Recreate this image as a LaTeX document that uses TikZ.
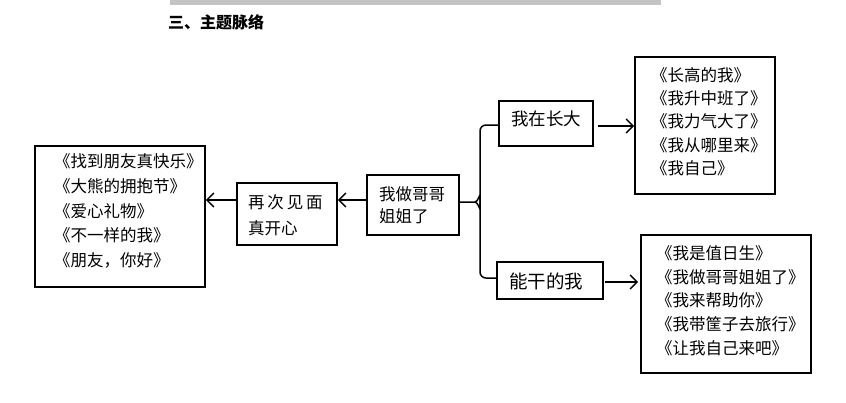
\documentclass[tikz,border=0pt]{standalone}
\usepackage{fontspec}
\newfontfamily\cjk{Noto Sans CJK SC}
\usetikzlibrary{arrows.meta}
\tikzset{
  box/.style={draw, line width=1.6pt, rectangle, inner sep=0pt},
  txt/.style={anchor=west, align=left, inner sep=0pt},
  arr/.style={line width=1.5pt, -{Straight Barb[length=7pt,width=14pt,line width=1.5pt]}},
  link/.style={line width=1.5pt},
}
\begin{document}
\begin{tikzpicture}[x=1pt,y=-1pt]
\useasboundingbox (0,0) rectangle (846,402);
\fill[black!23] (170,0) rectangle (661,4.5);
\node[txt, font=\cjk\bfseries\fontsize{16}{16}\selectfont] (title) at (168,22) {三、主题脉络};
% boxes
\node[box, minimum width=170pt, minimum height=141pt] (L) at (120,216.5) {};
\node[box, minimum width=100pt, minimum height=62pt] (B2) at (287,214) {};
\node[box, minimum width=92pt, minimum height=60pt] (M) at (413,205) {};
\node[box, minimum width=94pt, minimum height=45pt] (W1) at (546,123.5) {};
\node[box, minimum width=106pt, minimum height=37pt] (W2) at (550,280.5) {};
\node[box, minimum width=140pt, minimum height=137pt] (R1) at (705,125.5) {};
\node[box, minimum width=170pt, minimum height=138pt] (R2) at (726,304) {};
% texts
\node[txt, font=\cjk\fontsize{16.5}{24.75}\selectfont] (Lt) at (54,211) {《找到朋友真快乐》\\《大熊的拥抱节》\\《爱心礼物》\\《不一样的我》\\《朋友，你好》};
\node[txt, font=\cjk\fontsize{16.5}{26}\selectfont] (B2t) at (248,215) {再\hspace{2.8pt}次\hspace{2.8pt}见\hspace{2.8pt}面\\真开心};
\node[txt, font=\cjk\fontsize{16.5}{22}\selectfont] (Mt) at (379,205) {我做哥哥\\姐姐了};
\node[txt, font=\cjk\fontsize{17.5}{20}\selectfont] (W1t) at (511,119) {我在长大};
\node[txt, font=\cjk\fontsize{18.5}{20}\selectfont] (W2t) at (509,281) {能干的我};
\node[txt, font=\cjk\fontsize{16.5}{23.25}\selectfont] (R1t) at (651,121.5) {《长高的我》\\《我升中班了》\\《我力气大了》\\《我从哪里来》\\《我自己》};
\node[txt, font=\cjk\fontsize{16.5}{23.75}\selectfont] (R2t) at (656,300.5) {《我是值日生》\\《我做哥哥姐姐了》\\《我来帮助你》\\《我带筐子去旅行》\\《让我自己来吧》};
% connectors
\draw[arr] (B2.west |- 0,200) -- (L.east |- 0,200);
\draw[arr] (M.west |- 0,200) -- (B2.east |- 0,200);
\coordinate (J) at (480,202);
\draw[link] (M.east |- J) -- ([xshift=-5pt]J) to[out=0,in=-90] ([yshift=-6pt]J) -- (480,131) to[out=90,in=180] (486,125) -- (W1.west |- 0,125);
\draw[link] ([xshift=-5pt]J) to[out=0,in=90] ([yshift=6pt]J) -- (480,272) to[out=-90,in=180] (486,278) -- (W2.west |- 0,278);
\draw[arr] ([xshift=4pt]W1.east |- 0,126) -- (R1.west |- 0,126);
\draw[arr] ([xshift=1pt]W2.east |- 0,282) -- ([xshift=-2pt]R2.west |- 0,282);
\end{tikzpicture}
\end{document}
